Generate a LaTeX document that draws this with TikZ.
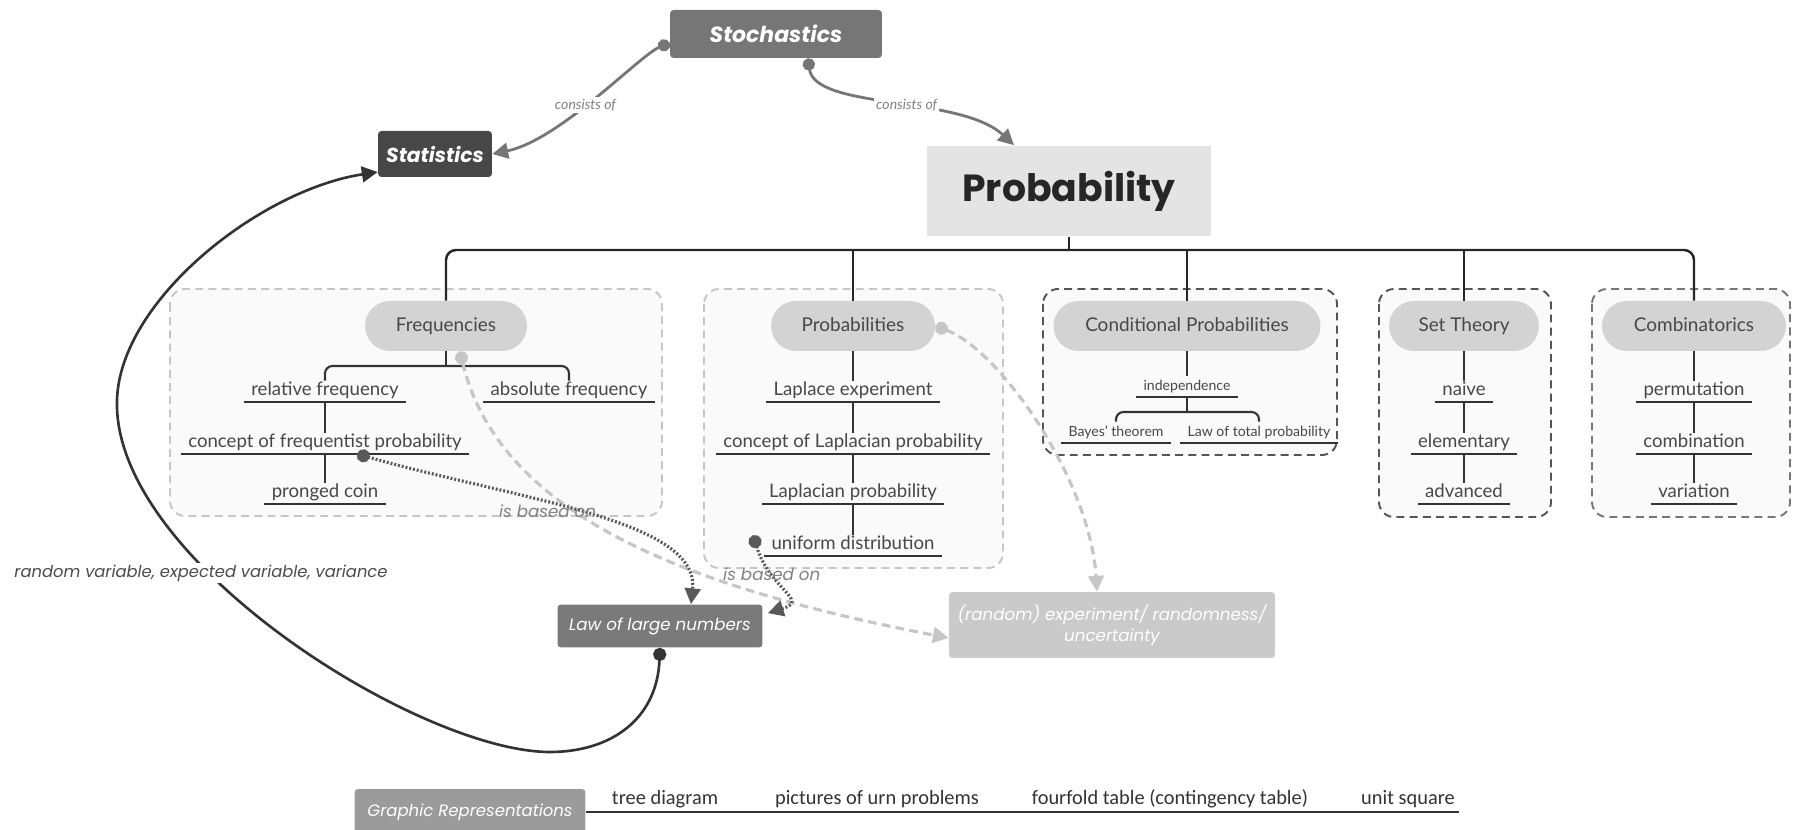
\documentclass[tikz,border=0pt]{standalone}
\usepackage{fontspec}
\setmainfont{Lato}
\newfontfamily\headfont{Poppins}
\newfontfamily\calfont{Carlito}
\usetikzlibrary{arrows.meta}

\definecolor{stochgray}{HTML}{767676}
\definecolor{statgray}{HTML}{474747}
\definecolor{probgray}{HTML}{E4E4E4}
\definecolor{pillgray}{HTML}{D3D3D3}
\definecolor{lawgray}{HTML}{7A7A7A}
\definecolor{randgray}{HTML}{CACACA}
\definecolor{graphgray}{HTML}{9B9B9B}
\definecolor{boxfill}{HTML}{FAFAFA}
\definecolor{textgray}{HTML}{484848}
\definecolor{framelight}{HTML}{C6C6C6}
\definecolor{framedark}{HTML}{555555}
\definecolor{framemid}{HTML}{777777}

\tikzset{
  headbox/.style={rectangle, rounded corners=2pt, text=white, inner sep=0pt},
  pill/.style={rectangle, rounded corners=0.5cm, fill=pillgray, text=textgray,
    minimum height=1cm, text height=0.86em, text depth=0.2em,
    font=\fontsize{10.8}{12}\selectfont},
  leaf/.style={anchor=south, text=textgray, inner xsep=0.14cm, inner ysep=1.2pt,
    text height=0.72em, text depth=0.22em, font=\fontsize{10.6}{12}\selectfont},
  smallleaf/.style={leaf, font=\fontsize{8}{9}\selectfont},
  groupbox/.style={rounded corners=0.3cm, fill=boxfill, line width=1.1pt,
    dash pattern=on 4.5pt off 3pt},
  trunk/.style={draw=black!85, line width=1.4pt, rounded corners=0.2cm},
  branch/.style={draw=black!80, line width=1.2pt, rounded corners=0.15cm},
  uline/.style={draw=black!80, line width=1.4pt},
  consist/.style={draw=stochgray, line width=1.6pt,
    {Circle[length=7pt]}-{Triangle[length=9pt,width=9pt]}},
  conslbl/.style={fill=white, inner sep=1pt, text=black!50,
    font=\itshape\fontsize{8}{9}\selectfont},
  basedon/.style={draw=black!65, line width=1.8pt, dash pattern=on 1.1pt off 1.1pt,
    {Circle[length=7.5pt]}-{Triangle[length=9pt,width=9pt]}},
  basedlbl/.style={inner sep=1pt, text=black!50,
    font=\headfont\itshape\fontsize{9.5}{11}\selectfont},
  randlink/.style={draw=framelight, line width=1.8pt, dash pattern=on 5pt off 3pt,
    {Circle[length=7.5pt]}-{Triangle[length=9pt,width=9pt]}},
  varlink/.style={draw=black!80, line width=1.5pt,
    {Circle[length=7.5pt]}-{Triangle[length=9pt,width=9pt]}},
  varlbl/.style={fill=white, inner sep=1pt, text=black!70,
    font=\headfont\itshape\fontsize{9.3}{11}\selectfont},
  gitem/.style={anchor=south, inner ysep=2pt, text=black!80,
    font=\calfont\fontsize{11.6}{13}\selectfont}
}

\begin{document}
\begin{tikzpicture}[x=0.02cm, y=-0.02cm]
\useasboundingbox (0,0) rectangle (1793,830);

% group frames
\draw[groupbox, draw=framelight] (170,289) rectangle (662,516);
\draw[groupbox, draw=framelight] (704,289) rectangle (1003,568);
\draw[groupbox, draw=framedark] (1043,289) rectangle (1337,455);
\draw[groupbox, draw=framedark] (1379,289) rectangle (1551,517);
\draw[groupbox, draw=framemid] (1592,289) rectangle (1790,517);

% main concepts
\node[headbox, fill=stochgray, minimum width=4.24cm, minimum height=0.96cm,
  font=\headfont\bfseries\itshape\fontsize{12.5}{15}\selectfont] (stoch) at (776,34) {Stochastics};
\node[headbox, fill=statgray, minimum width=2.28cm, minimum height=0.92cm,
  font=\headfont\bfseries\itshape\fontsize{11.5}{14}\selectfont] (stat) at (435,154) {Statistics};
\node[fill=probgray, minimum width=5.7cm, minimum height=1.82cm, text=black!85,
  font=\headfont\bfseries\fontsize{21.5}{26}\selectfont] (prob) at (1069,191) {Probability};
\node[headbox, fill=lawgray, minimum width=4.1cm, minimum height=0.86cm,
  font=\headfont\itshape\fontsize{9.5}{11}\selectfont] (lln) at (660,626) {Law of large numbers};
\node[headbox, fill=randgray, minimum width=6.52cm, minimum height=1.32cm, align=center,
  font=\headfont\itshape\fontsize{9.5}{12}\selectfont] (rand) at (1112,625)
  {(random) experiment/ randomness/\\uncertainty};
\node[headbox, fill=graphgray, minimum width=4.62cm, minimum height=0.92cm,
  font=\headfont\itshape\fontsize{9.4}{11}\selectfont] (graph) at (470,812) {Graphic Representations};

% the five areas
\node[pill, minimum width=3.24cm] (freq) at (446,326) {Frequencies};
\node[pill, minimum width=3.28cm] (probs) at (853,326) {Probabilities};
\node[pill, minimum width=5.34cm] (cond) at (1187,326) {Conditional Probabilities};
\node[pill, minimum width=3cm] (sets) at (1464,326) {Set Theory};
\node[pill, minimum width=3.68cm] (comb) at (1694,326) {Combinatorics};

% leaves
\node[leaf] (relfreq) at (325,402) {relative frequency};
\node[leaf] (absfreq) at (569,402) {absolute frequency};
\node[leaf] (freqconcept) at (325,454) {concept of frequentist probability};
\node[leaf] (coin) at (325,504) {pronged coin};

\node[leaf] (laplexp) at (853,402) {Laplace experiment};
\node[leaf] (laplconcept) at (853,454) {concept of Laplacian probability};
\node[leaf] (laplprob) at (853,504) {Laplacian probability};
\node[leaf] (unif) at (853,556) {uniform distribution};

\node[smallleaf] (indep) at (1187,397) {independence};
\node[smallleaf] (bayes) at (1116,443) {Bayes' theorem};
\node[smallleaf] (total) at (1259,443) {Law of total probability};

\node[leaf] (naive) at (1464,402) {naive};
\node[leaf] (elem) at (1464,454) {elementary};
\node[leaf] (adv) at (1464,504) {advanced};

\node[leaf] (perm) at (1694,402) {permutation};
\node[leaf] (combi) at (1694,454) {combination};
\node[leaf] (vari) at (1694,504) {variation};

% tree lines
\coordinate (hub) at (1069,250);
\draw[trunk] (prob.south) -- (hub);
\draw[trunk] (freq.north) |- (hub) -| (comb.north);
\foreach \g in {probs,cond,sets}
  \draw[trunk] (\g.north) -- (\g.north |- hub);

\coordinate (fhub) at (446,366);
\draw[branch] (freq.south) -- (fhub);
\draw[branch] (relfreq.north) |- (fhub) -| (absfreq.north);
\coordinate (chub) at (1187,412);
\draw[branch] (indep.south) -- (chub);
\draw[branch] (bayes.north) |- (chub) -| (total.north);
\foreach \a/\b in {relfreq/freqconcept, freqconcept/coin, probs/laplexp,
    laplexp/laplconcept, laplconcept/laplprob, laplprob/unif, cond/indep,
    sets/naive, naive/elem, elem/adv, comb/perm, perm/combi, combi/vari}
  \draw[branch] (\a.south) -- (\b.north);
\foreach \n in {relfreq, absfreq, freqconcept, coin, laplexp, laplconcept,
    laplprob, unif, indep, bayes, total, naive, elem, adv, perm, combi, vari}
  \draw[uline] (\n.south west) -- (\n.south east);

% links
\draw[consist] ([yshift=-0.18cm]stoch.west) .. controls (640,55) and (560,140) .. (stat.east)
  node[conslbl, pos=0.55] (cons1) {consists of};
\draw[consist] ([xshift=0.64cm]stoch.south) .. controls (815,110) and (960,95) .. ([xshift=-1.1cm]prob.north)
  node[conslbl, pos=0.55] (cons2) {consists of};

\draw[randlink] ([xshift=0.28cm]freq.south) .. controls (500,520) and (700,590) .. ([yshift=-0.26cm]rand.west);
\draw[randlink] (probs.east) .. controls (1000,350) and (1090,480) .. ([xshift=-0.3cm]rand.north);

\draw[basedon] ([xshift=0.64cm]freqconcept.south) .. controls (520,500) and (700,520) .. ([xshift=0.62cm]lln.north)
  node[basedlbl, pos=0.4, yshift=-0.18cm] (based1) {is based on};
\draw[basedon] ([shift={(-0.22cm,0.2cm)}]unif.west) .. controls (770,590) and (810,600) .. ([shift={(0.1cm,-0.18cm)}]lln.north east)
  node[basedlbl, pos=0.3] (based2) {is based on};

\draw[varlink] (lln.south) .. controls (657,720) and (610,752) .. (550,752)
  .. controls (420,752) and (112,560) .. (117,400)
  .. controls (120,300) and (260,190) .. ([yshift=-0.36cm]stat.west);
\node[varlbl] (varinfo) at (201,573) {random variable, expected variable, variance};

% graphic representations
\coordinate (gend) at (1459,812);
\draw[draw=black!80, line width=1.5pt] (graph.east) -- (gend);
\node[gitem] (tree) at (665,812) {tree diagram};
\node[gitem] (urn) at (877,812) {pictures of urn problems};
\node[gitem] (fourfold) at (1170,812) {fourfold table (contingency table)};
\node[gitem] (unitsq) at (1408,812) {unit square};

\end{tikzpicture}
\end{document}
